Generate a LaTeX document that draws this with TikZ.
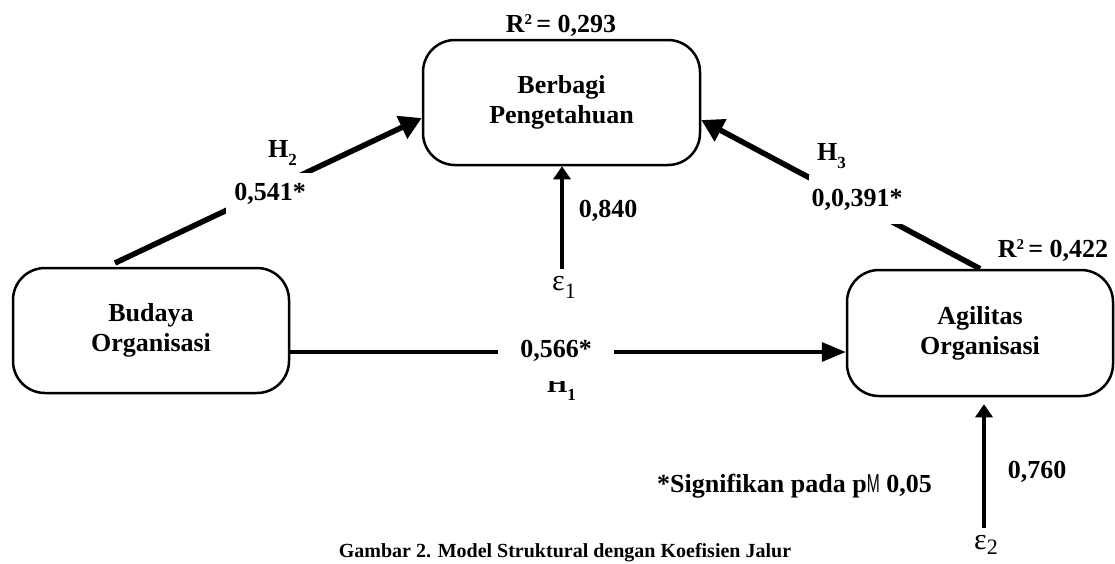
\documentclass[tikz,border=0pt]{standalone}
\usepackage{fontspec}
\setmainfont{Liberation Serif}
\newfontfamily\msans{Liberation Sans}
\usetikzlibrary{arrows.meta,calc}
\newcommand\sbx[2][17]{\raisebox{-8pt}{\fontsize{#1}{#1}\selectfont #2}}
\newcommand\spx[1]{\raisebox{8pt}{\fontsize{15}{15}\selectfont #1}}
\begin{document}
\begin{tikzpicture}[x=1pt,y=-1pt,
  box/.style={draw,line width=2.5pt,rounded corners=32pt,align=center,
    font=\bfseries\fontsize{26}{30}\selectfont,inner sep=0pt},
  lbl/.style={font=\bfseries\fontsize{26}{30}\selectfont,inner sep=0pt},
  epslbl/.style={font=\fontsize{30}{30}\selectfont,inner sep=0pt},
  thickarrow/.style={line width=5.5pt,-{Triangle[length=22pt,width=24pt]}},
  thinarrow/.style={line width=3.5pt,-{Triangle[length=24pt,width=19pt]}},
  vertarrow/.style={line width=3.5pt,-{Triangle[length=13pt,width=17pt]}}]
\useasboundingbox (0,0) rectangle (1115,563);
\clip (0,0) rectangle (1115,563);

% boxes
\node[box,minimum width=277pt,minimum height=125pt] (ber) at (561.5,102.5) {Berbagi\\Pengetahuan};
\node[box,minimum width=276pt,minimum height=125pt] (bud) at (151,330.5) {Budaya\\Organisasi};
\node[box,minimum width=266pt,minimum height=126pt] (agi) at (980,333) {Agilitas\\Organisasi};

% connectors
\coordinate (h2s) at (115,263);
\draw[thickarrow] (h2s) -- ($(ber.west)+(0,15.5)$);
\draw[thickarrow] (agi.north) -- ($(ber.east)+(0,17.5)$);
\draw[thinarrow] ($(bud.east)+(0,21.5)$) -- ($(agi.west)+(0,19)$);
\coordinate (e1s) at (562,269);
\draw[vertarrow] (e1s) -- (e1s |- ber.south);
\coordinate (e2s) at (984,528);
\draw[vertarrow,shorten >=7pt] (e2s) -- (e2s |- agi.south);

% labels
\node[lbl,anchor=base] (r1) at (561,32) {R\spx{2}\,= 0,293};
\node[lbl,anchor=base] (r2) at (1053,257) {R\spx{2}\,= 0,422};

\node[lbl,anchor=base west] (h2) at (268,157) {H\sbx{2}};
\node[lbl,anchor=base,fill=white,inner xsep=8pt,inner ysep=10pt] (c2) at (270,200) {0,541*};

\node[lbl,anchor=base west] (h3) at (817,160) {H\sbx{3}};
\node[lbl,anchor=base,fill=white,inner xsep=3pt,inner ysep=14pt] (c3) at (857,206) {0,0,391*};

\node[lbl,anchor=base west] (h1) at (547,392) {H\sbx{1}};
\node[lbl,anchor=base,fill=white,inner xsep=22pt,inner ysep=20pt] (c1) at (556,357) {0,566*};

\node[epslbl,anchor=base west] (e1) at (552,290) {ε\sbx[22]{1}};
\node[lbl,anchor=base] (c4) at (608,217) {0,840};
\node[epslbl,anchor=base west] (e2) at (974,549) {ε\raisebox{-5pt}{\fontsize{22}{22}\selectfont 2}};
\node[lbl,anchor=base] (c5) at (1037,478) {0,760};

\node[lbl,anchor=base west] (sig) at (657,492) {*Signifikan pada p{\msans\mdseries\scalebox{0.6}[1]{M}} 0,05};

\node[font=\bfseries\fontsize{20}{24}\selectfont,anchor=base,inner sep=0pt] (cap) at (565,557) {Gambar 2. Model Struktural dengan Koefisien Jalur};
\end{tikzpicture}
\end{document}
